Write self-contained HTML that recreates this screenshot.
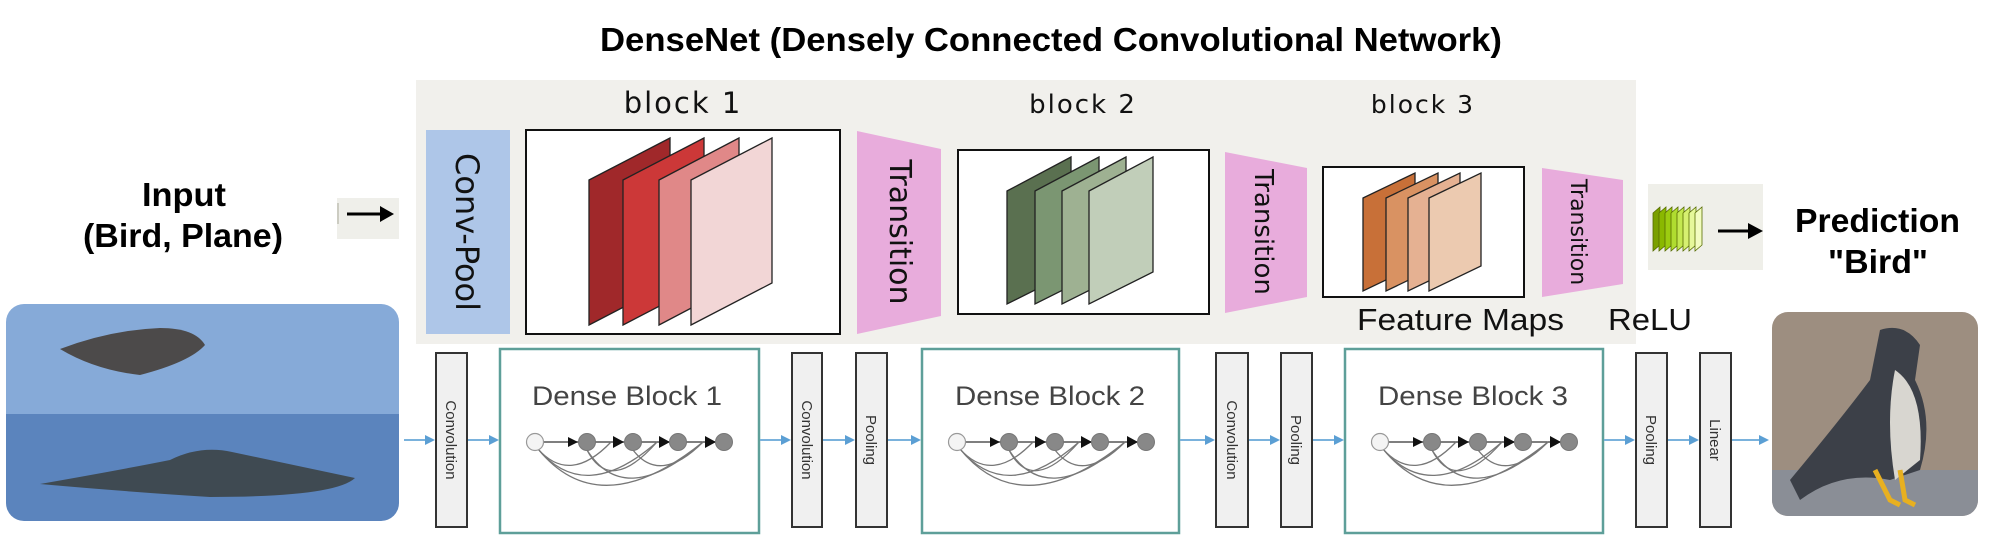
<!DOCTYPE html>
<html><head><meta charset="utf-8"><style>
html,body{margin:0;padding:0;background:#fff;width:2012px;height:536px;overflow:hidden}
svg{display:block}
</style></head><body>
<svg width="2012" height="536" viewBox="0 0 2012 536" xmlns="http://www.w3.org/2000/svg">
<defs>
<g id="dense">
  <line x1="35" y1="97" x2="224" y2="97" stroke="#555" stroke-width="1.5"/>
  <path d="M38,104 Q70,140 111,97" fill="none" stroke="#777" stroke-width="1.3"/>
  <path d="M38,104 Q85,160 157,97" fill="none" stroke="#777" stroke-width="1.3"/>
  <path d="M38,104 Q100,180 203,97" fill="none" stroke="#777" stroke-width="1.3"/>
  <path d="M87,105 Q110,150 157,97" fill="none" stroke="#777" stroke-width="1.3"/>
  <path d="M87,105 Q125,165 203,97" fill="none" stroke="#777" stroke-width="1.3"/>
  <path d="M133,105 Q160,140 203,97" fill="none" stroke="#777" stroke-width="1.3"/>
  <path d="M78,97 L68,92 L68,102z M124,97 L113,91 L113,103z M170,97 L159,91 L159,103z M216,97 L205,91 L205,103z" fill="#111"/>
  <circle cx="35" cy="97" r="8.5" fill="#f4f4f4" stroke="#999" stroke-width="1.2"/>
  <circle cx="87" cy="97" r="8.5" fill="#888" stroke="#777"/>
  <circle cx="133" cy="97" r="8.5" fill="#888" stroke="#777"/>
  <circle cx="178" cy="97" r="8.5" fill="#888" stroke="#777"/>
  <circle cx="224" cy="97" r="8.5" fill="#888" stroke="#777"/>
</g>
<path id="barr" d="M0,-5 L10,0 L0,5 z" fill="#5b9fd4"/>
</defs>

<text x="600" y="51" textLength="902" lengthAdjust="spacingAndGlyphs" font-family="Liberation Sans, sans-serif" font-weight="bold" font-size="33" fill="#000">DenseNet (Densely Connected Convolutional Network)</text>

<!-- Input -->
<text x="142" y="206" textLength="84" lengthAdjust="spacingAndGlyphs" font-family="Liberation Sans, sans-serif" font-weight="bold" font-size="33">Input</text>
<text x="83" y="247" textLength="200" lengthAdjust="spacingAndGlyphs" font-family="Liberation Sans, sans-serif" font-weight="bold" font-size="33">(Bird, Plane)</text>
<rect x="337" y="198" width="62" height="41" fill="#efefea"/>
<line x1="338" y1="203" x2="338" y2="224" stroke="#aa9" stroke-width="1"/>
<line x1="347" y1="214" x2="384" y2="214" stroke="#000" stroke-width="3"/>
<path d="M380,206 L394,214 L380,222z" fill="#000"/>

<!-- Input image -->
<clipPath id="c1"><rect x="6" y="304" width="393" height="217" rx="18"/></clipPath>
<g clip-path="url(#c1)">
  <rect x="6" y="304" width="393" height="110" fill="#86aad8"/>
  <rect x="6" y="414" width="393" height="107" fill="#5b84bd"/>
  <path d="M60,349 Q110,330 160,328 Q195,328 205,345 Q190,362 140,375 Q95,370 60,349z" fill="#4c4a4a"/>
  <path d="M40,484 Q120,470 170,460 Q200,445 232,452 L355,478 Q335,497 210,497 Q130,492 40,484z" fill="#3f4a52"/>
</g>

<!-- gray panel -->
<rect x="416" y="80" width="1220" height="264" fill="#f1f0ec"/>

<!-- Conv-Pool -->
<rect x="426" y="130" width="84" height="204" fill="#aec6e8"/>
<text transform="translate(456,232) rotate(90)" text-anchor="middle" font-family="DejaVu Sans, sans-serif" font-size="32" fill="#111">Conv-Pool</text>

<!-- block 1 -->
<text x="683" y="113" text-anchor="middle" font-family="DejaVu Sans, sans-serif" font-size="29" letter-spacing="2" fill="#111">block 1</text>
<rect x="526" y="130" width="314" height="204" fill="#fff" stroke="#111" stroke-width="2"/>
<g stroke="#222" stroke-width="1.3">
<path d="M589,180 L670,138 L670,283 L589,325z" fill="#a0282a"/>
<path d="M623,180 L704,138 L704,283 L623,325z" fill="#cc3838"/>
<path d="M659,180 L739,138 L739,283 L659,325z" fill="#e08888"/>
<path d="M691,180 L772,138 L772,283 L691,325z" fill="#f2d6d6"/>
</g>

<!-- Transition 1 -->
<path d="M857,131 L941,149 L941,316 L857,334z" fill="#e8acdc"/>
<text transform="translate(890,232) rotate(90)" text-anchor="middle" font-family="DejaVu Sans, sans-serif" font-size="30" fill="#111">Transition</text>

<!-- block 2 -->
<text x="1083" y="113" text-anchor="middle" font-family="DejaVu Sans, sans-serif" font-size="26" letter-spacing="2" fill="#111">block 2</text>
<rect x="958" y="150" width="251" height="164" fill="#fff" stroke="#111" stroke-width="2"/>
<g stroke="#222" stroke-width="1.3">
<path d="M1007,191 L1071,157 L1071,272 L1007,304z" fill="#5a7050"/>
<path d="M1035,191 L1099,157 L1099,272 L1035,304z" fill="#7b9672"/>
<path d="M1062,191 L1126,157 L1126,272 L1062,304z" fill="#9eb192"/>
<path d="M1089,191 L1153,157 L1153,272 L1089,304z" fill="#c1ceb9"/>
</g>

<!-- Transition 2 -->
<path d="M1225,152 L1307,168 L1307,297 L1225,313z" fill="#e8acdc"/>
<text transform="translate(1255,232) rotate(90)" text-anchor="middle" font-family="DejaVu Sans, sans-serif" font-size="26" fill="#111">Transition</text>

<!-- block 3 -->
<text x="1423" y="113" text-anchor="middle" font-family="DejaVu Sans, sans-serif" font-size="25" letter-spacing="2" fill="#111">block 3</text>
<rect x="1323" y="167" width="201" height="130" fill="#fff" stroke="#111" stroke-width="2"/>
<g stroke="#222" stroke-width="1.3">
<path d="M1363,198 L1415,173 L1415,266 L1363,291z" fill="#c87038"/>
<path d="M1386,198 L1438,173 L1438,266 L1386,291z" fill="#d99262"/>
<path d="M1408,198 L1460,173 L1460,266 L1408,291z" fill="#e5b192"/>
<path d="M1429,198 L1481,173 L1481,266 L1429,291z" fill="#eccab0"/>
</g>

<!-- Transition 3 -->
<path d="M1542,168 L1623,180 L1623,284 L1542,297z" fill="#e8acdc"/>
<text transform="translate(1571,232) rotate(90)" text-anchor="middle" font-family="DejaVu Sans, sans-serif" font-size="22" fill="#111">Transition</text>

<text x="1357" y="330" textLength="207" lengthAdjust="spacingAndGlyphs" font-family="Liberation Sans, sans-serif" font-size="31" fill="#111">Feature Maps</text>
<text x="1608" y="330" textLength="84" lengthAdjust="spacingAndGlyphs" font-family="Liberation Sans, sans-serif" font-size="31" fill="#111">ReLU</text>

<!-- output icon -->
<rect x="1648" y="184" width="115" height="86" fill="#efefe9"/>
<g stroke="#556b00" stroke-width="0.8">
<path d="M1653,213 L1660,207 L1660,245 L1653,251z" fill="#7aa000"/>
<path d="M1659,213 L1666,207 L1666,245 L1659,251z" fill="#8ab800"/>
<path d="M1665,213 L1672,207 L1672,245 L1665,251z" fill="#9ccc10"/>
<path d="M1671,213 L1678,207 L1678,245 L1671,251z" fill="#b0dc30"/>
<path d="M1677,213 L1684,207 L1684,245 L1677,251z" fill="#c4e850"/>
<path d="M1683,213 L1690,207 L1690,245 L1683,251z" fill="#d6f070"/>
<path d="M1689,213 L1696,207 L1696,245 L1689,251z" fill="#e6f89a"/>
<path d="M1695,213 L1702,207 L1702,245 L1695,251z" fill="#f2fcc0"/>
</g>
<line x1="1718" y1="231" x2="1752" y2="231" stroke="#000" stroke-width="3"/>
<path d="M1748,223 L1763,231 L1748,239z" fill="#000"/>

<text x="1795" y="232" textLength="165" lengthAdjust="spacingAndGlyphs" font-family="Liberation Sans, sans-serif" font-weight="bold" font-size="33">Prediction</text>
<text x="1828" y="273" textLength="100" lengthAdjust="spacingAndGlyphs" font-family="Liberation Sans, sans-serif" font-weight="bold" font-size="33">"Bird"</text>

<!-- falcon -->
<clipPath id="c2"><rect x="1772" y="312" width="206" height="204" rx="16"/></clipPath>
<g clip-path="url(#c2)">
  <rect x="1772" y="312" width="206" height="204" fill="#9d8e80"/>
  <rect x="1772" y="470" width="206" height="46" fill="#8a8e96"/>
  <path d="M1880,330 Q1905,322 1920,345 L1915,380 Q1935,420 1920,470 L1890,480 Q1840,470 1800,500 L1790,480 Q1840,420 1870,380z" fill="#3c4048"/>
  <path d="M1895,370 Q1925,390 1920,460 L1895,480 Q1885,420 1895,370z" fill="#d8d6d0"/>
  <path d="M1875,470 L1890,500 L1900,505 M1900,470 L1905,500 L1915,505" stroke="#e8b020" stroke-width="5" fill="none"/>
</g>

<!-- bottom row -->
<g font-family="Liberation Sans, sans-serif" font-size="15" fill="#333">
<rect x="436" y="353" width="31" height="174" fill="#f0f0f0" stroke="#333" stroke-width="2"/>
<text transform="translate(446,440) rotate(90)" text-anchor="middle">Convolution</text>
<rect x="792" y="353" width="30" height="174" fill="#f0f0f0" stroke="#333" stroke-width="2"/>
<text transform="translate(802,440) rotate(90)" text-anchor="middle">Convolution</text>
<rect x="856" y="353" width="31" height="174" fill="#f0f0f0" stroke="#333" stroke-width="2"/>
<text transform="translate(866,440) rotate(90)" text-anchor="middle">Pooling</text>
<rect x="1216" y="353" width="32" height="174" fill="#f0f0f0" stroke="#333" stroke-width="2"/>
<text transform="translate(1227,440) rotate(90)" text-anchor="middle">Convolution</text>
<rect x="1281" y="353" width="31" height="174" fill="#f0f0f0" stroke="#333" stroke-width="2"/>
<text transform="translate(1291,440) rotate(90)" text-anchor="middle">Pooling</text>
<rect x="1636" y="353" width="31" height="174" fill="#f0f0f0" stroke="#333" stroke-width="2"/>
<text transform="translate(1646,440) rotate(90)" text-anchor="middle">Pooling</text>
<rect x="1700" y="353" width="31" height="174" fill="#f0f0f0" stroke="#333" stroke-width="2"/>
<text transform="translate(1710,440) rotate(90)" text-anchor="middle">Linear</text>
</g>

<g fill="#fff" stroke="#5e9f99" stroke-width="2.5">
<rect x="500" y="349" width="259" height="184"/>
<rect x="922" y="349" width="257" height="184"/>
<rect x="1345" y="349" width="258" height="184"/>
</g>
<g font-family="Liberation Sans, sans-serif" font-size="27" fill="#444">
<text x="532" y="405" textLength="190" lengthAdjust="spacingAndGlyphs">Dense Block 1</text>
<text x="955" y="405" textLength="190" lengthAdjust="spacingAndGlyphs">Dense Block 2</text>
<text x="1378" y="405" textLength="190" lengthAdjust="spacingAndGlyphs">Dense Block 3</text>
</g>
<use href="#dense" x="500" y="345"/>
<use href="#dense" x="922" y="345"/>
<use href="#dense" x="1345" y="345"/>

<!-- blue arrows -->
<g stroke="#7ab2dc" stroke-width="2">
<line x1="404" y1="440" x2="428" y2="440"/>
<line x1="468" y1="440" x2="492" y2="440"/>
<line x1="760" y1="440" x2="784" y2="440"/>
<line x1="823" y1="440" x2="848" y2="440"/>
<line x1="888" y1="440" x2="914" y2="440"/>
<line x1="1180" y1="440" x2="1208" y2="440"/>
<line x1="1249" y1="440" x2="1273" y2="440"/>
<line x1="1313" y1="440" x2="1337" y2="440"/>
<line x1="1604" y1="440" x2="1628" y2="440"/>
<line x1="1668" y1="440" x2="1692" y2="440"/>
<line x1="1732" y1="440" x2="1762" y2="440"/>
</g>
<g>
<use href="#barr" x="425" y="440"/><use href="#barr" x="489" y="440"/>
<use href="#barr" x="781" y="440"/><use href="#barr" x="845" y="440"/><use href="#barr" x="911" y="440"/>
<use href="#barr" x="1205" y="440"/><use href="#barr" x="1270" y="440"/><use href="#barr" x="1334" y="440"/>
<use href="#barr" x="1625" y="440"/><use href="#barr" x="1689" y="440"/><use href="#barr" x="1759" y="440"/>
</g>
</svg>
</body></html>
